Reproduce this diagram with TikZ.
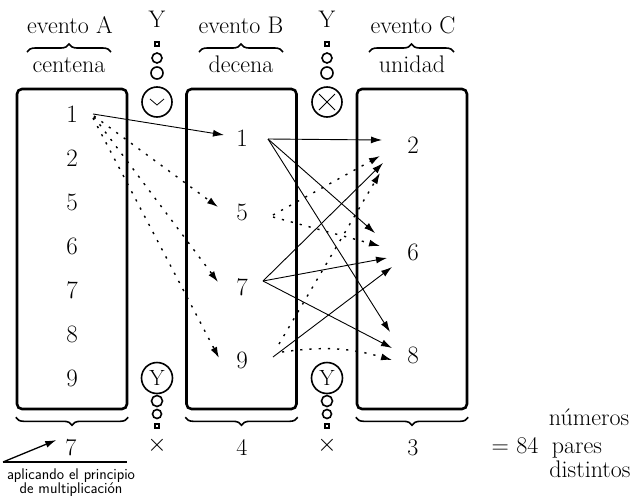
\documentclass[tikz,border=0pt]{standalone}
\usetikzlibrary{decorations.pathreplacing,arrows.meta}
\begin{document}
\begin{tikzpicture}[x=1pt,y=-1pt,
  lbl/.style={font=\fontsize{24}{28}\selectfont, inner sep=0pt},
  num/.style={font=\fontsize{25}{28}\selectfont, inner sep=1pt},
  panel/.style={draw, line width=2.6pt, rounded corners=5pt, minimum width=110pt, minimum height=320pt, inner sep=0pt},
  bubble/.style={draw, circle, line width=1.6pt, inner sep=0pt},
  sqbubble/.style={draw, rectangle, line width=1.6pt, inner sep=0pt, minimum size=4pt},
  tipped/.style={-{Latex[length=11pt,width=7pt]}},
  solidarrow/.style={tipped, line width=0.9pt},
  dotarrow/.style={tipped, line width=1.4pt, dash pattern=on 2.2pt off 7pt},
  bracetop/.style={decorate, decoration={brace, amplitude=8pt}, line width=1.6pt},
  note/.style={font=\sffamily\fontsize{15.5}{14}\selectfont, inner sep=0pt, align=center},
]
\useasboundingbox (0,0) rectangle (641,504);

% the three event panels
\node[panel] (boxA) at (72,249) {};
\node[panel] (boxB) at (241.5,249) {};
\node[panel] (boxC) at (412,249) {};

% headings and braces above the panels
\node[lbl, anchor=base] (evA) at (70,33) {evento A};
\node[lbl, anchor=base] (evB) at (241,33) {evento B};
\node[lbl, anchor=base] (evC) at (413,33) {evento C};
\draw[bracetop] (27,52) -- (111,52);
\draw[bracetop] (199,52) -- (283,52);
\draw[bracetop] (369,52) -- (454,52);
\node[lbl, anchor=base] (cen) at (69,72) {centena};
\node[lbl, anchor=base] (dec) at (241,72) {decena};
\node[lbl, anchor=base] (uni) at (412,72) {unidad};

% braces below the panels and the counts
\draw[bracetop] ([shift={(0,7)}]boxA.south east) -- ([shift={(0,7)}]boxA.south west);
\draw[bracetop] ([shift={(0,7)}]boxB.south east) -- ([shift={(0,7)}]boxB.south west);
\draw[bracetop] ([shift={(0,7)}]boxC.south east) -- ([shift={(0,7)}]boxC.south west);
\node[lbl, anchor=base] (tA) at (71,455) {7};
\node[lbl, anchor=base] (tB) at (242,455) {4};
\node[lbl, anchor=base] (tC) at (413,455) {3};

% connector chains between the panels
\node[lbl, anchor=base] (yL) at (157,27) {Y};
\node[sqbubble] (sqL) at (157,44) {};
\node[bubble, minimum size=10pt] (s1L) at (157,58) {};
\node[bubble, minimum size=12pt] (s2L) at (157,73) {};
\node[bubble, minimum size=30pt] (orL) at (157,102) {};
\draw[line width=0.8pt] ([shift={(-7,-3)}]orL.center) -- ([shift={(0,3)}]orL.center) -- ([shift={(7,-3)}]orL.center);

\node[lbl, anchor=base] (yR) at (327,27) {Y};
\node[sqbubble] (sqR) at (327,44) {};
\node[bubble, minimum size=10pt] (s1R) at (327,58) {};
\node[bubble, minimum size=12pt] (s2R) at (327,73) {};
\node[bubble, minimum size=30pt] (xR) at (327,102) {};
\draw[line width=1pt] ([shift={(-8,-8)}]xR.center) -- ([shift={(8,8)}]xR.center)
                      ([shift={(-8,8)}]xR.center) -- ([shift={(8,-8)}]xR.center);

\node[bubble, minimum size=31pt, font=\fontsize{22}{24}\selectfont] (yBL) at (157,378) {Y};
\node[bubble, minimum size=11pt] (b1L) at (157,401) {};
\node[bubble, minimum size=9pt] (b2L) at (157,414) {};
\node[sqbubble] (bqL) at (157,426) {};
\node[lbl] (mL) at (157,445) {$\times$};

\node[bubble, minimum size=31pt, font=\fontsize{22}{24}\selectfont] (yBR) at (327,378) {Y};
\node[bubble, minimum size=11pt] (b1R) at (327,401) {};
\node[bubble, minimum size=9pt] (b2R) at (327,414) {};
\node[sqbubble] (bqR) at (327,426) {};
\node[lbl] (mR) at (327,445) {$\times$};

% digits of each panel
\node[num] (a1) at (72,114) {1};
\node[num] (a2) at (72,158) {2};
\node[num] (a5) at (72,202) {5};
\node[num] (a6) at (72,246) {6};
\node[num] (a7) at (72,290) {7};
\node[num] (a8) at (72,334) {8};
\node[num] (a9) at (72,378) {9};

\node[num] (b1) at (242,138) {1};
\node[num] (b5) at (242,212) {5};
\node[num] (b7) at (242,287) {7};
\node[num] (b9) at (242,360) {9};

\node[num] (c2) at (413,145) {2};
\node[num] (c6) at (413,252) {6};
\node[num] (c8) at (413,355) {8};

% hundreds digit 1 towards the tens digits
\draw[solidarrow] ([shift={(21,0)}]a1.center) -- ([shift={(-18,-3)}]b1.center);
\draw[dotarrow] ([shift={(22,2)}]a1.center) -- ([shift={(-24,-5)}]b5.center);
\draw[dotarrow] ([shift={(22,3)}]a1.center) -- ([shift={(-24,-5)}]b7.center);
\draw[dotarrow] ([shift={(21,4)}]a1.center) -- ([shift={(-23,-2)}]b9.center);

% tens digits towards the units digits
\draw[solidarrow] ([shift={(26,1)}]b1.center) -- ([shift={(-31,-5)}]c2.center);
\draw[solidarrow] ([shift={(26,1)}]b1.center) -- ([shift={(-38,-19)}]c6.center);
\draw[solidarrow] ([shift={(26,1)}]b1.center) -- ([shift={(-23,-23)}]c8.center);

\draw[dotarrow] ([shift={(31,3)}]b5.center) -- ([shift={(-33,11)}]c2.center);
\draw[dotarrow] ([shift={(31,5)}]b5.center) -- ([shift={(-33,-6)}]c6.center);

\draw[solidarrow] ([shift={(21,-6)}]b7.center) -- ([shift={(-30,18)}]c2.center);
\draw[solidarrow] ([shift={(21,-6)}]b7.center) -- ([shift={(-26,6)}]c6.center);
\draw[solidarrow] ([shift={(21,-6)}]b7.center) -- ([shift={(-21,-7)}]c8.center);

\draw[solidarrow] ([shift={(31,-3)}]b9.center) -- ([shift={(-21,15)}]c6.center);
\draw[dotarrow] ([shift={(37,-16)}]b9.center) -- ([shift={(-33,28)}]c2.center);
\draw[dotarrow] ([shift={(40,-8)}]b9.center) to[bend left=12] ([shift={(-21,5)}]c8.center);

% result
\node[lbl, anchor=base] (res1) at (589,425) {números};
\node[lbl, anchor=base] (res0) at (515,453) {= 84};
\node[lbl, anchor=base] (res2) at (577,453) {pares};
\node[lbl, anchor=base] (res3) at (590,477) {distintos};

% note on the principle used
\coordinate (noteL) at (3,462);
\coordinate (noteR) at (127,462);
\draw[line width=1.5pt] (noteL) -- (noteR);
\draw[solidarrow, line width=1.3pt] (noteL) -- ([shift={(-9,-7)}]tA.west);
\node[note, anchor=north] (noteT) at (71,469) {aplicando el principio\\de multiplicación};
\end{tikzpicture}
\end{document}
